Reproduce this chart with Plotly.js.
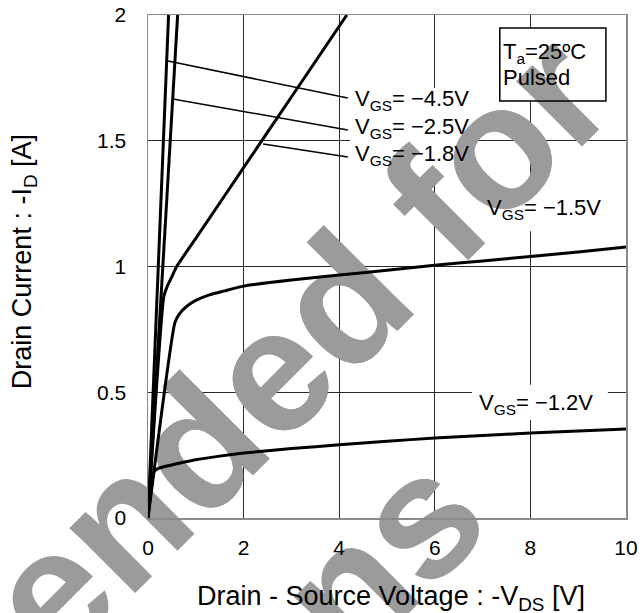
<!DOCTYPE html>
<html>
<head>
<meta charset="utf-8">
<script src="https://cdn.plot.ly/plotly-3.0.1.min.js"></script>
<style>html,body{margin:0;padding:0;background:#fff;}#chart{width:644px;height:613px;}</style>
</head>
<body>
<div id="chart"></div>
<script>
// ---- Data ----
const seriesNames = ['VGS=-4.5V', 'VGS=-2.5V', 'VGS=-1.8V', 'VGS=-1.5V', 'VGS=-1.2V'];

const vds_45 = [0, 0.43];
const id_45  = [0, 2.0];

const vds_25 = [0, 0.62];
const id_25  = [0, 2.0];

const vds_18 = [0, 0.33, 0.4, 0.5, 0.6, 1.0, 2.0, 3.0, 4.16];
const id_18  = [0, 0.88, 0.92, 0.96, 1.0, 1.112, 1.393, 1.674, 2.0];

const vds_15 = [0, 0.56, 0.65, 0.8, 1.0, 1.3, 1.6, 2, 3, 4, 5, 6, 7, 8, 9, 10];
const id_15  = [0, 0.775, 0.81, 0.84, 0.865, 0.888, 0.903, 0.922, 0.946, 0.966, 0.985, 1.005, 1.022, 1.04, 1.058, 1.078];

const vds_12 = [0, 0.13, 0.2, 0.4, 0.7, 1, 1.5, 2, 3, 4, 5, 6, 7, 8, 9, 10];
const id_12  = [0, 0.185, 0.196, 0.207, 0.22, 0.232, 0.246, 0.258, 0.276, 0.291, 0.305, 0.318, 0.328, 0.338, 0.346, 0.354];

const xTickVals = [0, 2, 4, 6, 8, 10];
const xTickText = ['0', '2', '4', '6', '8', '10'];
const yTickVals = [0, 0.5, 1, 1.5, 2];
const yTickText = ['0', '0.5', '1', '1.5', '2'];

const xTitle = 'Drain - Source Voltage : -V<sub>DS</sub> [V]';
const yTitle = 'Drain Current : -I<sub>D</sub> [A]';
const conditionText = ['T<sub>a</sub>=25ºC', 'Pulsed'];
const curveLabels = ['V<sub>GS</sub>= \u22124.5V', 'V<sub>GS</sub>= \u22122.5V', 'V<sub>GS</sub>= \u22121.8V', 'V<sub>GS</sub>= \u22121.5V', 'V<sub>GS</sub>= \u22121.2V'];
const watermarkLines = ['Not Recommended for', 'New Designs'];

// ---- Styling / layout ----
const FONT = '"Liberation Sans", Arial, sans-serif';
const lineStyle = {color: '#000', width: 3};

const xs = [vds_45, vds_25, vds_18, vds_15, vds_12];
const ys = [id_45, id_25, id_18, id_15, id_12];
const traces = xs.map((x, i) => ({
  x: x, y: ys[i], type: 'scatter', mode: 'lines', name: seriesNames[i],
  line: Object.assign({shape: i >= 2 ? 'spline' : 'linear', smoothing: 0.5}, lineStyle),
  hoverinfo: 'skip', showlegend: false
}));

const txtFont = {family: FONT, size: 22, color: '#000'};

// label anchor positions (data units)
const labelPos = [[4.29, 1.662], [4.29, 1.551], [4.29, 1.443], [7.05, 1.229], [6.88, 0.453]];
const annotations = curveLabels.map((t, i) => ({
  text: t, x: labelPos[i][0], y: labelPos[i][1], xref: 'x', yref: 'y',
  xanchor: 'left', yanchor: 'middle', showarrow: false, font: txtFont
}));
annotations.push({text: conditionText[0], x: 7.38, y: 1.849, xref: 'x', yref: 'y', xanchor: 'left', yanchor: 'middle', showarrow: false, font: txtFont});
annotations.push({text: conditionText[1], x: 7.38, y: 1.75, xref: 'x', yref: 'y', xanchor: 'left', yanchor: 'middle', showarrow: false, font: txtFont});
annotations.push({text: xTitle, x: 0.508, y: -0.159, xref: 'paper', yref: 'paper', xanchor: 'center', yanchor: 'middle', showarrow: false, font: {family: FONT, size: 27, color: '#000'}});
annotations.push({text: yTitle, x: -0.259, y: 0.509, xref: 'paper', yref: 'paper', xanchor: 'center', yanchor: 'middle', textangle: -90, showarrow: false, font: {family: FONT, size: 27, color: '#000'}});

const whiteRect = (x0, x1, y0, y1) => ({type: 'rect', layer: 'between', xref: 'x', yref: 'y', x0, x1, y0, y1, fillcolor: '#fff', line: {width: 0}});
const shapes = [
  whiteRect(4.23, 6.84, 1.39, 1.71),
  whiteRect(6.94, 9.70, 1.14, 1.32),
  whiteRect(6.78, 9.62, 0.39, 0.53),
  whiteRect(7.36, 9.58, 1.658, 1.948)
];
const wmCenters = [[-5.12, -0.785], [-1.93, -1.347]];
const wmFont = {family: FONT, size: 175, weight: 'bold', color: '#9b9b9b'};
// copy drawn outside the plot area (paper refs, not clipped)
watermarkLines.forEach((t, i) => {
  const px = wmCenters[i][0] / 10, py = wmCenters[i][1] / 2;
  shapes.push({
    type: 'rect', layer: 'below', xref: 'paper', yref: 'paper',
    x0: px - 0.001, x1: px + 0.001, y0: py - 0.001, y1: py + 0.001,
    line: {width: 0}, fillcolor: 'rgba(0,0,0,0)',
    label: {text: t, textangle: -45, textposition: 'middle center', padding: 0, font: wmFont}
  });
});
// copy drawn inside the plot area, above the grid and below the curves
watermarkLines.forEach((t, i) => {
  shapes.push({
    type: 'rect', layer: 'between', xref: 'x', yref: 'y',
    x0: wmCenters[i][0] - 0.01, x1: wmCenters[i][0] + 0.01,
    y0: wmCenters[i][1] - 0.002, y1: wmCenters[i][1] + 0.002,
    line: {width: 0}, fillcolor: 'rgba(0,0,0,0)',
    label: {text: t, textangle: -45, textposition: 'middle center', padding: 0, font: wmFont}
  });
});
// leader lines
const leaders = [[0.42, 1.817, 4.18, 1.67], [0.52, 1.666, 4.18, 1.543], [2.41, 1.487, 4.18, 1.435]];
leaders.forEach(l => shapes.push({type: 'line', layer: 'above', xref: 'x', yref: 'y', x0: l[0], y0: l[1], x1: l[2], y1: l[3], line: {color: '#000', width: 1.5}}));
// condition box border
shapes.push({type: 'rect', layer: 'above', xref: 'x', yref: 'y', x0: 7.36, x1: 9.58, y0: 1.658, y1: 1.948, line: {color: '#000', width: 1.5}, fillcolor: 'rgba(0,0,0,0)'});

const axisCommon = {
  showgrid: true, gridcolor: '#2a2a2a', gridwidth: 1,
  showline: true, linecolor: '#8a8a8a', linewidth: 1.5, mirror: true,
  ticks: '', zeroline: false, fixedrange: true,
  tickfont: {family: FONT, size: 21, color: '#000'}
};

const layout = {
  width: 644, height: 613,
  margin: {l: 148, r: 18, t: 15, b: 95, pad: 0},
  paper_bgcolor: '#fff', plot_bgcolor: 'rgba(0,0,0,0)',
  showlegend: false,
  xaxis: Object.assign({}, axisCommon, {range: [0, 10], tickvals: xTickVals, ticktext: xTickText, ticklabelstandoff: 10}),
  yaxis: Object.assign({}, axisCommon, {range: [0, 2], tickvals: yTickVals, ticktext: yTickText, ticklabelstandoff: 16}),
  annotations: annotations,
  shapes: shapes
};

Plotly.newPlot('chart', traces, layout, {staticPlot: true, displayModeBar: false});
</script>
</body>
</html>
